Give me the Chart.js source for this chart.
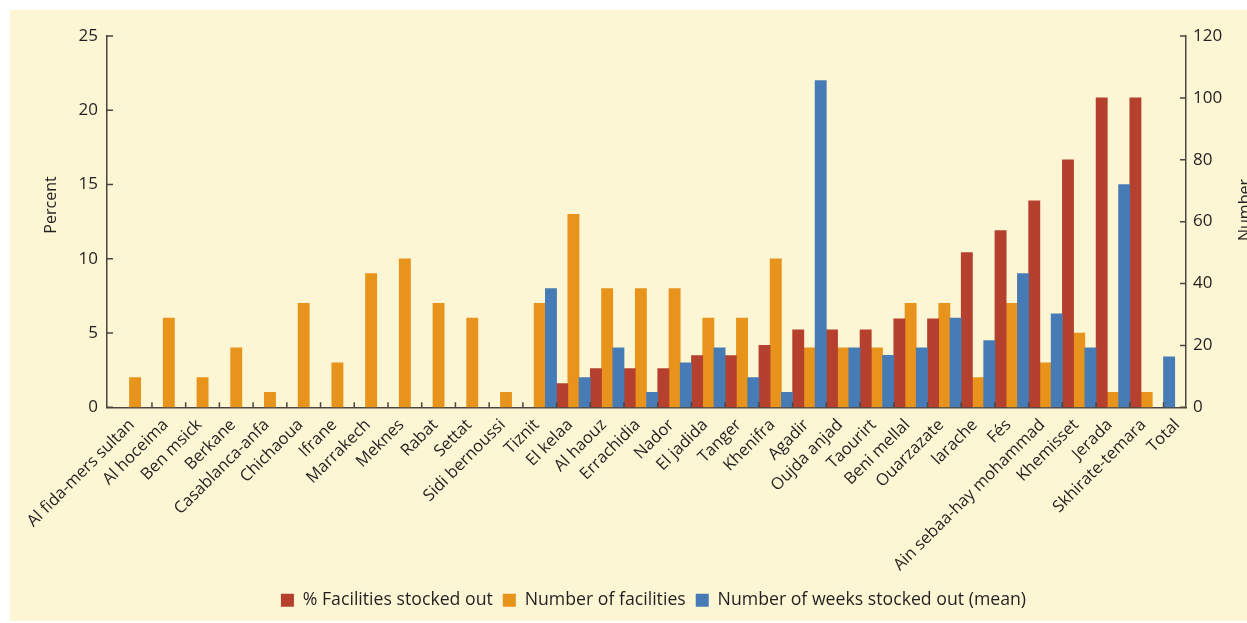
<!DOCTYPE html>
<html>
<head>
<meta charset="utf-8">
<script src="https://cdn.jsdelivr.net/npm/chart.js@4.4.1/dist/chart.umd.min.js"></script>
<style>
  html, body { margin: 0; padding: 0; background: #ffffff; overflow: hidden; }
  canvas { display: block; }
</style>
</head>
<body>
<canvas id="stockChart" width="1247" height="623"></canvas>
<script>
// regions, left to right
var regions = ['Al fida-mers sultan', 'Al hoceima', 'Ben msick', 'Berkane', 'Casablanca-anfa',
  'Chichaoua', 'Ifrane', 'Marrakech', 'Meknes', 'Rabat', 'Settat', 'Sidi bernoussi', 'Tiznit',
  'El kelaa', 'Al haouz', 'Errachidia', 'Nador', 'El jadida', 'Tanger', 'Khenifra', 'Agadir',
  'Oujda anjad', 'Taourirt', 'Beni mellal', 'Ouarzazate', 'larache', 'Fés',
  'Ain sebaa-hay mohammad', 'Khemisset', 'Jerada', 'Skhirate-temara', 'Total'];

// % facilities stocked out (right axis, 0-120)
var pctStockedOut = [null, null, null, null, null, null, null, null, null, null, null, null, null,
  7.7, 12.5, 12.5, 12.5, 16.7, 16.7, 20, 25, 25, 25, 28.6, 28.6, 50, 57.1, 66.7, 80, 100, 100, null];

// number of facilities (left axis)
var numFacilities = [2, 6, 2, 4, 1, 7, 3, 9, 10, 7, 6, 1, 7,
  13, 8, 8, 8, 6, 6, 10, 4, 4, 4, 7, 7, 2, 7, 3, 5, 1, 1, null];

// number of weeks stocked out, mean (left axis)
var weeksStockedOut = [null, null, null, null, null, null, null, null, null, null, null, null, null,
  8, 2, 4, 1, 3, 4, 2, 1, 22, 4, 3.5, 4, 6, 4.5, 9, 6.3, 4, 15, 3.4];

var leftTicks = [0, 5, 10, 15, 20, 25];
var rightTicks = [0, 20, 40, 60, 80, 100, 120];

var RED = '#b4402d';
var ORANGE = '#e8931b';
var BLUE = '#477bb5';
var INK = '#231f20';
var AXIS = '#4a453f';
var FONT = '"Open Sans", Lato, sans-serif';

var lastIdx = regions.length - 1;
// the Total bar sits in the middle slot of its group
var weeksRegions = weeksStockedOut.map(function(v, i) { return i === lastIdx ? null : v; });
var weeksTotal = weeksStockedOut.map(function(v, i) { return i === lastIdx ? v : null; });

Chart.defaults.font.family = FONT;
Chart.defaults.color = INK;

var panelBg = {
  id: 'panelBg',
  beforeDraw: function(chart) {
    var ctx = chart.ctx;
    ctx.save();
    ctx.fillStyle = '#ffffff';
    ctx.fillRect(0, 0, chart.width, chart.height);
    ctx.fillStyle = '#fdf6d4';
    ctx.fillRect(10, 10, chart.width - 10, chart.height - 12);
    ctx.restore();
  }
};

// tick marks pointing into the plot
var innerTicks = {
  id: 'innerTicks',
  afterDatasetsDraw: function(chart) {
    var ctx = chart.ctx, area = chart.chartArea;
    var x = chart.scales.x, y = chart.scales.y, y1 = chart.scales.y1;
    ctx.save();
    ctx.strokeStyle = AXIS;
    ctx.lineWidth = 1.5;
    ctx.beginPath();
    leftTicks.forEach(function(v) {
      var p = y.getPixelForValue(v);
      ctx.moveTo(area.left, p); ctx.lineTo(area.left + 6, p);
    });
    rightTicks.forEach(function(v) {
      var p = y1.getPixelForValue(v);
      ctx.moveTo(area.right - 6, p); ctx.lineTo(area.right, p);
    });
    var w = x.getPixelForValue(1) - x.getPixelForValue(0);
    for (var i = 1; i < regions.length; i++) {
      var px = x.getPixelForValue(i) - w / 6;
      ctx.moveTo(px, area.bottom); ctx.lineTo(px, area.bottom - 5);
    }
    ctx.stroke();
    ctx.restore();
  }
};

var axisTitles = {
  id: 'axisTitles',
  afterDraw: function(chart) {
    var ctx = chart.ctx;
    ctx.save();
    ctx.fillStyle = INK;
    ctx.font = '16px ' + FONT;
    ctx.textAlign = 'center';
    ctx.textBaseline = 'middle';
    ctx.translate(51, 205);
    ctx.rotate(-Math.PI / 2);
    ctx.fillText('Percent', 0, 0);
    ctx.restore();

    ctx.save();
    ctx.fillStyle = INK;
    ctx.font = '16px ' + FONT;
    ctx.textAlign = 'center';
    ctx.textBaseline = 'alphabetic';
    ctx.translate(1250, 210);
    ctx.rotate(-Math.PI / 2);
    ctx.fillText('Number', 0, 0);
    ctx.restore();
  }
};

var legendOrder = [1, 2, 0];

var data = {
  labels: regions,
  datasets: [
    {
      label: 'Number of weeks stocked out (mean)',
      data: weeksRegions,
      backgroundColor: BLUE,
      yAxisID: 'y',
      stack: 'weeks'
    },
    {
      label: '% Facilities stocked out',
      data: pctStockedOut,
      backgroundColor: RED,
      yAxisID: 'y1',
      stack: 'pct'
    },
    {
      label: 'Number of facilities',
      data: numFacilities,
      backgroundColor: ORANGE,
      yAxisID: 'y',
      stack: 'fac'
    },
    {
      label: 'Total weeks',
      data: weeksTotal,
      backgroundColor: BLUE,
      yAxisID: 'y',
      stack: 'pct'
    }
  ]
};

var config = {
  type: 'bar',
  data: data,
  plugins: [panelBg, innerTicks, axisTitles],
  options: {
    responsive: false,
    animation: false,
    layout: { padding: { left: 60, top: 36, right: 0, bottom: 4 } },
    datasets: {
      bar: { categoryPercentage: 1, barPercentage: 1, borderWidth: 0 }
    },
    plugins: {
      tooltip: { enabled: false },
      legend: {
        position: 'bottom',
        labels: {
          boxWidth: 13,
          boxHeight: 13,
          padding: 10,
          font: { size: 17.7 },
          color: INK,
          filter: function(item) { return item.datasetIndex !== 3; },
          sort: function(a, b) {
            return legendOrder.indexOf(a.datasetIndex) - legendOrder.indexOf(b.datasetIndex);
          }
        }
      }
    },
    scales: {
      x: {
        grid: { display: false, drawTicks: false },
        border: { display: true, color: AXIS, width: 1.5 },
        ticks: {
          autoSkip: false,
          maxRotation: 45,
          minRotation: 45,
          padding: 8,
          labelOffset: 8,
          font: { size: 16.5 },
          color: INK
        },
        afterFit: function(s) { s.height = 174; }
      },
      y: {
        position: 'left',
        min: 0,
        max: 25,
        grid: { display: false, drawTicks: false },
        border: { display: true, color: AXIS, width: 1.5 },
        ticks: { stepSize: 5, padding: 9, font: { size: 17 }, color: INK },
        afterFit: function(s) { s.width = 47; }
      },
      y1: {
        position: 'right',
        min: 0,
        max: 120,
        grid: { display: false, drawTicks: false },
        border: { display: true, color: AXIS, width: 1.5 },
        ticks: { stepSize: 20, padding: 7, font: { size: 17 }, color: INK },
        afterFit: function(s) { s.width = 61; }
      }
    }
  }
};

var ctx = document.getElementById('stockChart').getContext('2d');
var stockChart = new Chart(ctx, config);
</script>
</body>
</html>
